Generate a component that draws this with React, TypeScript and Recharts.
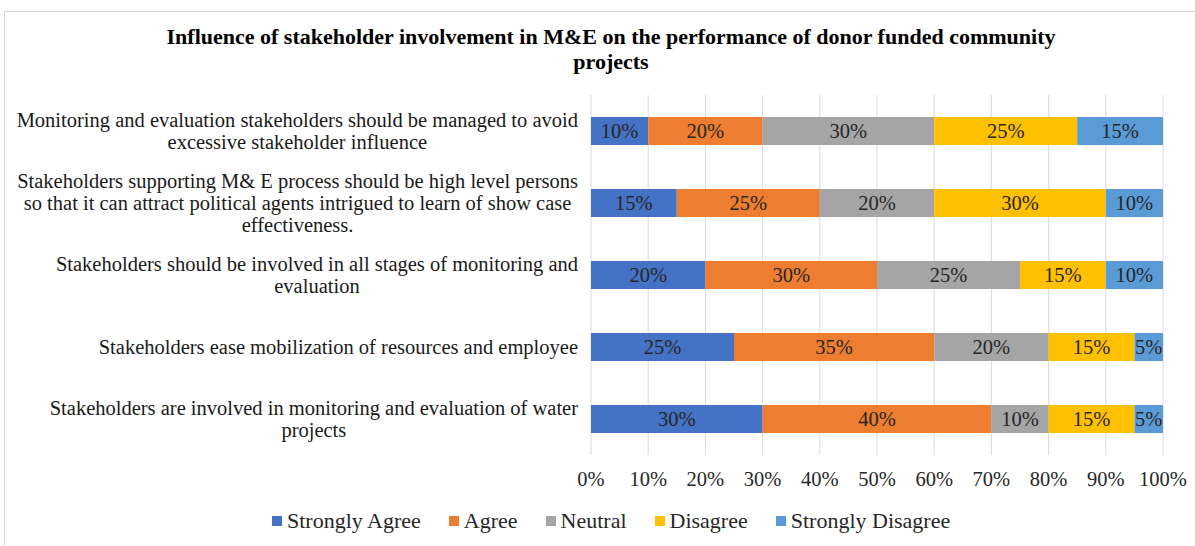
import React from 'react';
import { BarChart, Bar, XAxis, YAxis, CartesianGrid, LabelList } from 'recharts';

const CATEGORIES = [
  'Monitoring and evaluation stakeholders should be managed to avoid\nexcessive stakeholder influence',
  'Stakeholders supporting M& E process should be high level persons\nso that it can attract political agents intrigued to learn of show case\neffectiveness.',
  'Stakeholders should be involved in all stages of monitoring and\nevaluation',
  'Stakeholders ease mobilization of resources and employee',
  'Stakeholders are involved in monitoring and evaluation of water\nprojects',
];

const SERIES = ['Strongly Agree', 'Agree', 'Neutral', 'Disagree', 'Strongly Disagree'];
const COLORS = ['#4472C4', '#ED7D31', '#A5A5A5', '#FFC000', '#5B9BD5'];

const STRONGLY_AGREE = [10, 15, 20, 25, 30];
const AGREE = [20, 25, 30, 35, 40];
const NEUTRAL = [30, 20, 25, 20, 10];
const DISAGREE = [25, 30, 15, 15, 15];
const STRONGLY_DISAGREE = [15, 10, 10, 5, 5];

const X_TICKS = [0, 10, 20, 30, 40, 50, 60, 70, 80, 90, 100];

const VALUES = [STRONGLY_AGREE, AGREE, NEUTRAL, DISAGREE, STRONGLY_DISAGREE];
const data = CATEGORIES.map((name, i) => {
  const row: any = { name };
  SERIES.forEach((s, j) => { row[s] = VALUES[j][i]; });
  return row;
});

const FONT = '"Liberation Serif", "Times New Roman", serif';
const LABEL_SIZE = 20.5;
const INK = '#262626';

let ctx: CanvasRenderingContext2D | null = null;
const textWidth = (s: string) => {
  if (!ctx) ctx = document.createElement('canvas').getContext('2d');
  if (!ctx) return s.length * 9;
  ctx.font = `${LABEL_SIZE}px ${FONT}`;
  return ctx.measureText(s).width;
};

// right-aligned block of centred lines, like Excel's wrapped axis labels
function CategoryTick({ x, y, payload }: any) {
  const lines = String(payload.value).split('\n');
  const right = x - 5;
  const widest = Math.max(...lines.map(textWidth));
  const cx = right - widest / 2;
  const lh = 22;
  const y0 = y - ((lines.length - 1) * lh) / 2;
  return (
    <text x={cx} y={y0} textAnchor="middle" fontFamily={FONT} fontSize={LABEL_SIZE} fill="#1a1a1a">
      {lines.map((l, i) => (
        <tspan key={i} x={cx} y={y0 + i * lh} dy="0.35em">{l}</tspan>
      ))}
    </text>
  );
}

export default function App() {
  return (
    <div style={{ position: 'absolute', left: 0, top: 0, width: 1195, height: 546, background: '#fff', overflow: 'hidden', fontFamily: FONT }}>
      <div style={{ position: 'absolute', left: 4, top: 11, width: 1300, height: 600, border: '1px solid #d9d9d9', boxSizing: 'border-box' }} />
      <div style={{ position: 'absolute', left: 11, top: 24, width: 1200, textAlign: 'center', fontWeight: 'bold', fontSize: 22, lineHeight: '25px', color: '#000' }}>
        Influence of stakeholder involvement in M&amp;E on the performance of donor funded community<br />projects
      </div>
      <div style={{ position: 'absolute', left: 0, top: 0 }}>
        <BarChart
          width={1195}
          height={546}
          data={data}
          layout="vertical"
          margin={{ top: 95, right: 32, bottom: 61, left: 0 }}
          barCategoryGap={0}
        >
          <CartesianGrid horizontal={false} stroke="#d9d9d9" />
          <XAxis
            type="number"
            domain={[0, 100]}
            ticks={X_TICKS}
            tickFormatter={(v) => `${v}%`}
            axisLine={false}
            tickLine={false}
            tickMargin={10}
            height={30}
            interval={0}
            tick={{ fontFamily: FONT, fontSize: LABEL_SIZE, fill: INK }}
          />
          <YAxis
            type="category"
            dataKey="name"
            width={591}
            axisLine={false}
            tickLine={false}
            interval={0}
            tick={<CategoryTick />}
          />
          {SERIES.map((s, i) => (
            <Bar key={s} dataKey={s} stackId="a" fill={COLORS[i]} barSize={28} isAnimationActive={false}>
              <LabelList
                dataKey={s}
                position="center"
                formatter={(v: any) => `${v}%`}
                style={{ fontFamily: FONT, fontSize: LABEL_SIZE, fill: INK }}
              />
            </Bar>
          ))}
        </BarChart>
      </div>
      <div style={{ position: 'absolute', left: 272, top: 508, display: 'flex', gap: 28, fontSize: 22, lineHeight: '26px', color: INK }}>
        {SERIES.map((s, i) => (
          <div key={s} style={{ display: 'flex', alignItems: 'center', gap: 5 }}>
            <span style={{ width: 10, height: 10, background: COLORS[i], display: 'inline-block' }} />
            <span>{s}</span>
          </div>
        ))}
      </div>
    </div>
  );
}
